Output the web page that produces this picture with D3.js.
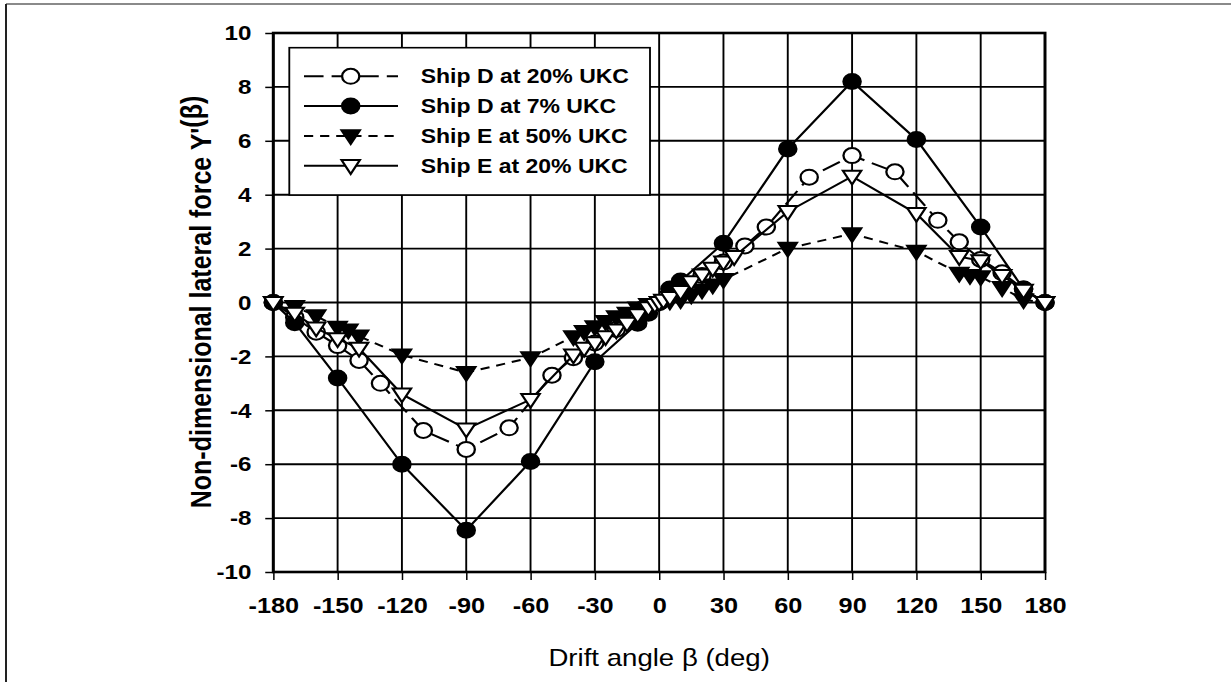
<!DOCTYPE html>
<html>
<head>
<meta charset="utf-8">
<script src="https://cdn.jsdelivr.net/npm/d3@7"></script>
<style>
  html, body { margin: 0; padding: 0; background: #fff; }
  svg { display: block; }
</style>
</head>
<body>
<div id="chart"></div>
<script>
// data
const d20Angle = [-180, -170, -160, -150, -140, -130, -110, -90, -70, -50, -40, -30, -20, -10, 0, 10, 20, 30, 40, 50, 70, 90, 110, 130, 140, 150, 160, 170, 180]
const d20Force = [0, -0.55, -1.1, -1.6, -2.15, -3.0, -4.75, -5.45, -4.65, -2.7, -2.05, -1.5, -1.0, -0.5, 0, 0.5, 1.0, 1.5, 2.1, 2.8, 4.65, 5.45, 4.85, 3.05, 2.25, 1.6, 1.1, 0.5, 0]

const d7Angle = [-180, -170, -150, -120, -90, -60, -30, -10, -5, 0, 5, 10, 30, 60, 90, 120, 150, 170, 180]
const d7Force = [0, -0.75, -2.8, -6.0, -8.45, -5.9, -2.2, -0.77, -0.4, 0, 0.5, 0.8, 2.2, 5.7, 8.2, 6.05, 2.8, 0.5, 0]

const e50Angle = [-180, -170, -160, -150, -145, -140, -120, -90, -60, -40, -35, -30, -25, -20, -15, -10, -5, 0, 5, 10, 15, 20, 25, 30, 60, 90, 120, 140, 145, 150, 160, 170, 180]
const e50Force = [0, -0.15, -0.5, -0.92, -1.02, -1.25, -1.95, -2.6, -2.05, -1.27, -1.08, -0.9, -0.71, -0.53, -0.4, -0.21, -0.08, 0, 0.05, 0.1, 0.28, 0.46, 0.65, 0.85, 2.01, 2.55, 1.9, 1.08, 1.0, 0.95, 0.55, 0.1, 0]

const e20Angle = [-180, -170, -160, -150, -140, -120, -90, -60, -40, -35, -30, -25, -20, -15, -10, -5, -2, 0, 2, 5, 10, 15, 20, 25, 30, 35, 60, 90, 120, 140, 150, 160, 170, 180]
const e20Force = [0, -0.4, -0.95, -1.35, -1.7, -3.4, -4.7, -3.6, -1.95, -1.7, -1.5, -1.27, -1.02, -0.77, -0.46, -0.2, -0.08, 0, 0.08, 0.18, 0.4, 0.77, 1.02, 1.27, 1.5, 1.7, 3.37, 4.68, 3.3, 1.7, 1.55, 1.0, 0.45, 0]

const seriesNames = ['Ship D at 20% UKC', 'Ship D at 7% UKC', 'Ship E at 50% UKC', 'Ship E at 20% UKC']
const xTicks = [-180, -150, -120, -90, -60, -30, 0, 30, 60, 90, 120, 150, 180]
const yTicks = [-10, -8, -6, -4, -2, 0, 2, 4, 6, 8, 10]

// the picture is a bit wider than tall, so draw narrow and stretch
const SX = 1.15
const W = 1231, H = 682
const w = W / SX

const series = [
  { name: seriesNames[0], xs: d20Angle, ys: d20Force, shape: 'circle', fill: '#fff', dash: '17,7' },
  { name: seriesNames[1], xs: d7Angle, ys: d7Force, shape: 'circle', fill: '#000', dash: null },
  { name: seriesNames[2], xs: e50Angle, ys: e50Force, shape: 'tri', fill: '#000', dash: '8,6' },
  { name: seriesNames[3], xs: e20Angle, ys: e20Force, shape: 'tri', fill: '#fff', dash: null }
]

const svg = d3.select('#chart')
  .append('svg')
  .attr('width', W)
  .attr('height', H)
  .attr('viewBox', '0 0 ' + w + ' ' + H)
  .attr('preserveAspectRatio', 'none')
  .style('font-family', '"Liberation Sans", Arial, sans-serif')

// frame of the figure
svg.append('line').attr('x1', 6 / SX).attr('x2', w).attr('y1', 4).attr('y2', 4)
   .attr('stroke', '#8a8a8a').attr('stroke-width', 2)
svg.append('line').attr('x1', 6 / SX).attr('x2', 6 / SX).attr('y1', 4).attr('y2', H)
   .attr('stroke', '#222').attr('stroke-width', 2 / SX)

const x = d3.scaleLinear().domain([-180, 180]).range([273.3 / SX, 1045 / SX])
const y = d3.scaleLinear().domain([-10, 10]).range([572, 33])

// grid
svg.append('g').selectAll('line').data(xTicks).enter().append('line')
   .attr('x1', d => x(d)).attr('x2', d => x(d)).attr('y1', y(10)).attr('y2', y(-10))
   .attr('stroke', '#000').attr('stroke-width', 1.9 / SX)
svg.append('g').selectAll('line').data(yTicks).enter().append('line')
   .attr('x1', x(-180)).attr('x2', x(180)).attr('y1', d => y(d)).attr('y2', d => y(d))
   .attr('stroke', '#000').attr('stroke-width', 1.9)

// axes, plain hyphen for negatives like the original
const xAxis = d3.axisBottom(x).tickValues(xTicks).tickSize(8).tickPadding(17).tickFormat(d => String(d))
const yAxis = d3.axisLeft(y).tickValues(yTicks).tickSize(7).tickPadding(12).tickFormat(d => String(d))

const gx = svg.append('g').attr('transform', 'translate(0,' + y(-10) + ')').call(xAxis)
const gy = svg.append('g').attr('transform', 'translate(' + x(-180) + ',0)').call(yAxis)
gx.select('.domain').remove()
gy.select('.domain').remove()
gx.selectAll('line').attr('stroke', '#000').attr('stroke-width', 1.5 / SX)
gy.selectAll('line').attr('stroke', '#000').attr('stroke-width', 1.5)
gx.selectAll('text').attr('font-size', 22).attr('font-weight', 'bold').attr('fill', '#000')
  .attr('font-family', '"Liberation Sans", Arial, sans-serif').attr('dy', '0.71em')
gy.selectAll('text').attr('font-size', 21).attr('font-weight', 'bold').attr('fill', '#000')
  .attr('font-family', '"Liberation Sans", Arial, sans-serif')

// plot border
svg.append('rect')
   .attr('x', x(-180)).attr('y', y(10))
   .attr('width', x(180) - x(-180)).attr('height', y(-10) - y(10))
   .attr('fill', 'none').attr('stroke', '#000').attr('stroke-width', 2.6)

// markers
const triPath = d3.symbol().type(d3.symbolTriangle).size(110)
function addMarker(g, s, cx, cy) {
  if (s.shape === 'circle') {
    g.append('circle').attr('cx', cx).attr('cy', cy).attr('r', 7.5)
     .attr('fill', s.fill).attr('stroke', '#000').attr('stroke-width', 2)
  } else {
    g.append('path').attr('d', triPath())
     .attr('transform', 'translate(' + cx + ',' + (cy - 1) + ') rotate(180)')
     .attr('fill', s.fill).attr('stroke', '#000').attr('stroke-width', 2)
  }
}

const line = d3.line().x(d => x(d[0])).y(d => y(d[1]))

series.forEach(s => {
  const pts = s.xs.map((a, i) => [a, s.ys[i]])
  const g = svg.append('g')
  g.append('path').datum(pts).attr('d', line)
   .attr('fill', 'none').attr('stroke', '#000').attr('stroke-width', 2)
   .attr('stroke-dasharray', s.dash)
  pts.forEach(p => addMarker(g, s, x(p[0]), y(p[1])))
})

// legend
const leg = svg.append('g')
leg.append('rect')
   .attr('x', 289.3 / SX).attr('y', 47.7)
   .attr('width', (650 - 289.3) / SX).attr('height', 195 - 47.7)
   .attr('fill', '#fff').attr('stroke', '#000').attr('stroke-width', 1.6)

series.forEach((s, i) => {
  const ly = 76.3 + i * 29.8
  const row = leg.append('g')
  row.append('line')
     .attr('x1', 304 / SX).attr('x2', 398 / SX).attr('y1', ly).attr('y2', ly)
     .attr('stroke', '#000').attr('stroke-width', 2)
     .attr('stroke-dasharray', s.dash)
  addMarker(row, s, 350.7 / SX, ly)
  row.append('text')
     .attr('x', 420.7 / SX).attr('y', ly + 7)
     .attr('font-size', 20).attr('font-weight', 'bold')
     .text(s.name)
})

// axis titles
svg.append('text')
   .attr('x', x(0)).attr('y', 666)
   .attr('text-anchor', 'middle')
   .attr('font-size', 24)
   .text('Drift angle β (deg)')

const yl = svg.append('text')
   .attr('transform', 'translate(' + (211 / SX) + ',' + 302 + ') rotate(-90)')
   .attr('text-anchor', 'middle')
   .attr('font-size', 25).attr('font-weight', 'bold')
yl.append('tspan').text("Non-dimensional lateral force Y'")
yl.append('tspan').attr('dy', -8).text('(β)')
</script>
</body>
</html>
